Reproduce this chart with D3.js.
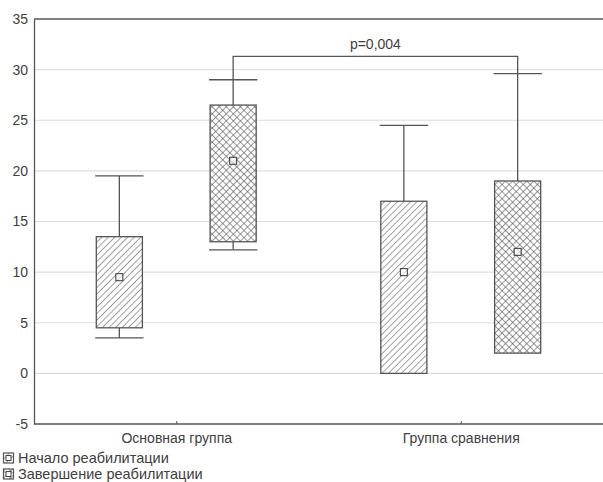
<!DOCTYPE html>
<html><head><meta charset="utf-8">
<script src="https://cdn.jsdelivr.net/npm/d3@7"></script>
<style>body{margin:0;background:#fff}svg{display:block;font-family:"Liberation Sans",Arial,sans-serif}</style>
</head><body><svg id="c" width="603" height="482"></svg>
<script>
const groups = ["Основная группа", "Группа сравнения"];
const series = ["Начало реабилитации", "Завершение реабилитации"];
// per group, per series
const means   = [[9.5, 21], [10, 12]];
const boxLow  = [[4.5, 13], [0, 2]];
const boxHigh = [[13.5, 26.5], [17, 19]];
const whMin   = [[3.5, 12.2], [0, 2]];
const whMax   = [[19.5, 29], [24.5, 29.6]];
const yTicks = [-5, 0, 5, 10, 15, 20, 25, 30, 35];
const pLabel = "p=0,004";
const pLevel = 31.3;

const svg = d3.select("#c");
const W = 603, H = 482;
const m = {l: 34, t: 19, r: 0, b: 58};
const y = d3.scaleLinear().domain([-5, 35]).range([H - m.b, m.t]);
const x = d3.scalePoint().domain(groups).range([m.l, W - m.r]).padding(0.5);
const step = x.step();
const xs = d3.scalePoint().domain(series).range([-0.2 * step, 0.2 * step]);
const bw = 0.162 * step;
const capW = 0.085 * step;
const ink = "#555";
const txt = "#404040";
const FS = "14px";

const defs = svg.append("defs");
function hatch(id, cross) {
  const s = cross ? 5 : 4.6;
  const p = defs.append("pattern").attr("id", id).attr("patternUnits", "userSpaceOnUse")
    .attr("width", s).attr("height", s)
    .attr("patternTransform", "rotate(45)");
  p.append("rect").attr("width", s).attr("height", s).attr("fill", "#fff");
  p.append("line").attr("x1", 0).attr("y1", 0).attr("x2", 0).attr("y2", s)
    .attr("stroke", "#555").attr("stroke-width", cross ? 1.2 : 1.1);
  if (cross) p.append("line").attr("x1", 0).attr("y1", 0).attr("x2", s).attr("y2", 0)
    .attr("stroke", "#555").attr("stroke-width", 1.2);
}
hatch("h0", false);
hatch("h1", true);

// gridlines
svg.append("g").selectAll("line").data(yTicks.filter(t => t > -5 && t < 35)).join("line")
  .attr("x1", m.l).attr("x2", W).attr("y1", d => y(d)).attr("y2", d => y(d))
  .attr("stroke", "#dedede").attr("stroke-width", 1.2);

// y axis
const ya = svg.append("g").attr("transform", `translate(${m.l},0)`)
  .call(d3.axisLeft(y).tickValues(yTicks).tickFormat(d => String(d)).tickSize(0).tickPadding(6));
ya.select(".domain").attr("stroke", ink).attr("stroke-width", 1.3);
ya.selectAll("text").attr("fill", txt).style("font-size", FS).style("font-family", "Liberation Sans, Arial, sans-serif");
// top border
svg.append("line").attr("x1", m.l).attr("x2", W).attr("y1", y(35)).attr("y2", y(35)).attr("stroke", ink).attr("stroke-width", 1.3);

// x axis
const xa = svg.append("g").attr("transform", `translate(0,${y(-5)})`)
  .call(d3.axisBottom(x).tickSize(-3).tickPadding(9));
xa.select(".domain").attr("d", `M${m.l},0H${W}`).attr("stroke", ink).attr("stroke-width", 1.3);
xa.selectAll(".tick line").attr("stroke", ink);
xa.selectAll("text").attr("fill", txt).style("font-size", FS).style("font-family", "Liberation Sans, Arial, sans-serif");

// boxes
const items = [];
groups.forEach((g, gi) => series.forEach((s, si) => items.push({g, s, gi, si,
  mean: means[gi][si], lo: boxLow[gi][si], hi: boxHigh[gi][si], mn: whMin[gi][si], mx: whMax[gi][si]})));
const bx = svg.append("g");
items.forEach(d => {
  const cx = x(d.g) + xs(d.s);
  const gg = bx.append("g");
  if (d.mx > d.hi) {
    gg.append("line").attr("x1", cx).attr("x2", cx).attr("y1", y(d.hi)).attr("y2", y(d.mx)).attr("stroke", ink).attr("stroke-width", 1.3);
    gg.append("line").attr("x1", cx - capW).attr("x2", cx + capW).attr("y1", y(d.mx)).attr("y2", y(d.mx)).attr("stroke", ink).attr("stroke-width", 1.3);
  }
  if (d.mn < d.lo) {
    gg.append("line").attr("x1", cx).attr("x2", cx).attr("y1", y(d.lo)).attr("y2", y(d.mn)).attr("stroke", ink).attr("stroke-width", 1.3);
    gg.append("line").attr("x1", cx - capW).attr("x2", cx + capW).attr("y1", y(d.mn)).attr("y2", y(d.mn)).attr("stroke", ink).attr("stroke-width", 1.3);
  }
  gg.append("rect").attr("x", cx - bw / 2).attr("width", bw).attr("y", y(d.hi)).attr("height", y(d.lo) - y(d.hi))
    .attr("fill", `url(#h${d.si})`).attr("stroke", ink).attr("stroke-width", 1.3);
  gg.append("rect").attr("x", cx - 3.5).attr("y", y(d.mean) - 3.5).attr("width", 7).attr("height", 7)
    .attr("fill", "#fff").attr("fill-opacity", 0.6).attr("stroke", "#444").attr("stroke-width", 1.1);
});

// significance bracket
const a = items.find(d => d.gi === 0 && d.si === 1), b = items.find(d => d.gi === 1 && d.si === 1);
const ax = x(a.g) + xs(a.s), bxx = x(b.g) + xs(b.s);
svg.append("path").attr("d", `M${ax},${y(a.mx)}V${y(pLevel)}H${bxx}V${y(b.mx)}`)
  .attr("fill", "none").attr("stroke", ink).attr("stroke-width", 1.3);
svg.append("text").attr("x", (ax + bxx) / 2).attr("y", y(pLevel) - 7).attr("text-anchor", "middle")
  .attr("fill", txt).style("font-size", FS).text(pLabel);

// legend
const lg = svg.append("g");
series.forEach((s, i) => {
  const yy = 453 + i * 16;
  lg.append("rect").attr("x", 3.5).attr("y", yy).attr("width", 10).attr("height", 10)
    .attr("fill", `url(#h${i})`).attr("stroke", ink).attr("stroke-width", 1.2);
  lg.append("rect").attr("x", 6).attr("y", yy + 2.5).attr("width", 5).attr("height", 5)
    .attr("fill", "#fff").attr("stroke", "#444").attr("stroke-width", 1);
  lg.append("text").attr("x", 18).attr("y", yy + 10).attr("fill", txt).style("font-size", "14.5px").text(s);
});
</script></body></html>
